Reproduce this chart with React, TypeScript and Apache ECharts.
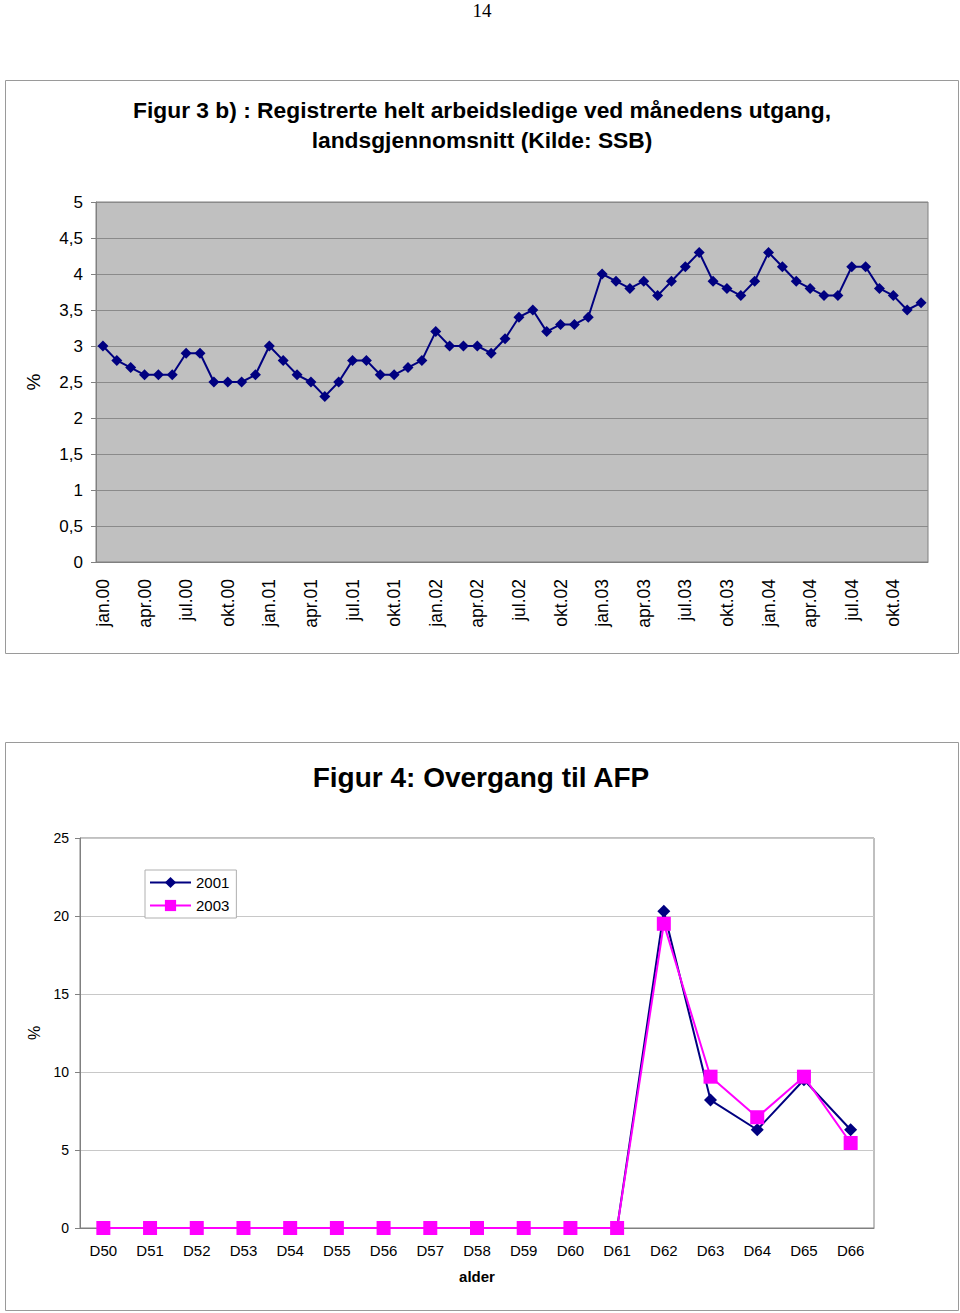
import React, { useEffect, useRef } from "react";
import * as echarts from "echarts";

const months = ["jan", "feb", "mar", "apr", "mai", "jun", "jul", "aug", "sep", "okt", "nov", "des"];
const years = ["00", "01", "02", "03", "04"];
const monthLabels: string[] = [];
years.forEach((y) => months.forEach((m) => monthLabels.push(m + "." + y)));

const unemployment = [
  3.0, 2.8, 2.7, 2.6, 2.6, 2.6, 2.9, 2.9, 2.5, 2.5, 2.5, 2.6,
  3.0, 2.8, 2.6, 2.5, 2.3, 2.5, 2.8, 2.8, 2.6, 2.6, 2.7, 2.8,
  3.2, 3.0, 3.0, 3.0, 2.9, 3.1, 3.4, 3.5, 3.2, 3.3, 3.3, 3.4,
  4.0, 3.9, 3.8, 3.9, 3.7, 3.9, 4.1, 4.3, 3.9, 3.8, 3.7, 3.9,
  4.3, 4.1, 3.9, 3.8, 3.7, 3.7, 4.1, 4.1, 3.8, 3.7, 3.5, 3.6,
];

const ages = ["D50", "D51", "D52", "D53", "D54", "D55", "D56", "D57", "D58", "D59", "D60", "D61", "D62", "D63", "D64", "D65", "D66"];
const afp2001 = [0, 0, 0, 0, 0, 0, 0, 0, 0, 0, 0, 0, 20.3, 8.2, 6.3, 9.5, 6.3];
const afp2003 = [0, 0, 0, 0, 0, 0, 0, 0, 0, 0, 0, 0, 19.5, 9.7, 7.1, 9.7, 5.45];

const FONT = "'Liberation Sans', Arial, sans-serif";

export default function App() {
  const ref = useRef<HTMLDivElement>(null);
  useEffect(() => {
    if (!ref.current) return;
    const chart = echarts.init(ref.current, undefined, { renderer: "svg" });
    chart.setOption({
      animation: false,
      backgroundColor: "#ffffff",
      textStyle: { fontFamily: FONT },
      graphic: [
        { type: "rect", shape: { x: 5.5, y: 80.5, width: 953, height: 573 }, style: { fill: "none", stroke: "#9a9a9a", lineWidth: 1 }, z: -1 },
        { type: "rect", shape: { x: 5.5, y: 742.5, width: 953, height: 568 }, style: { fill: "none", stroke: "#9a9a9a", lineWidth: 1 }, z: -1 },
        { type: "text", x: 482, y: 10, style: { text: "14", fontFamily: "'Liberation Serif', 'Times New Roman', serif", fontSize: 19, fill: "#000", align: "center", verticalAlign: "middle" } },
        {
          type: "text", x: 482, y: 110,
          style: { text: "Figur 3 b) : Registrerte helt arbeidsledige ved månedens utgang,", fontFamily: FONT, fontSize: 22.8, fontWeight: "bold", fill: "#000", align: "center", verticalAlign: "middle" },
        },
        {
          type: "text", x: 482, y: 140,
          style: { text: "landsgjennomsnitt (Kilde: SSB)", fontFamily: FONT, fontSize: 22.8, fontWeight: "bold", fill: "#000", align: "center", verticalAlign: "middle" },
        },
        {
          type: "text", x: 481, y: 777,
          style: { text: "Figur 4: Overgang til AFP", fontFamily: FONT, fontSize: 28, fontWeight: "bold", fill: "#000", align: "center", verticalAlign: "middle" },
        },
      ],
      legend: {
        orient: "vertical", left: 145, top: 870,
        data: ["2001", "2003"],
        backgroundColor: "#fff", borderColor: "#b0b0b0", borderWidth: 1,
        padding: [5, 7, 5, 4], itemGap: 8, itemWidth: 41, itemHeight: 14,
        textStyle: { fontFamily: FONT, fontSize: 15, color: "#000" },
      },
      grid: [
        { left: 96, top: 202, width: 832, height: 360, show: true, backgroundColor: "#c0c0c0", borderColor: "#808080", borderWidth: 1, containLabel: false },
        { left: 80, top: 838, width: 794, height: 390, show: true, backgroundColor: "#fff", borderColor: "#808080", borderWidth: 1, containLabel: false },
      ],
      xAxis: [
        {
          type: "category", gridIndex: 0, data: monthLabels, boundaryGap: true,
          axisLine: { lineStyle: { color: "#808080" } },
          axisTick: { interval: 2, length: 5, lineStyle: { color: "#808080" } },
          axisLabel: { interval: 2, rotate: 90, fontFamily: FONT, fontSize: 17.5, color: "#000", margin: 17 },
        },
        {
          type: "category", gridIndex: 1, data: ages, boundaryGap: true,
          name: "alder", nameLocation: "middle", nameGap: 41,
          nameTextStyle: { fontFamily: FONT, fontSize: 15, fontWeight: "bold", color: "#000" },
          axisLine: { lineStyle: { color: "#808080" } },
          axisTick: { length: 5, lineStyle: { color: "#808080" } },
          axisLabel: { fontFamily: FONT, fontSize: 15, color: "#000", margin: 15 },
        },
      ],
      yAxis: [
        {
          type: "value", gridIndex: 0, min: 0, max: 5, interval: 0.5,
          name: "%", nameLocation: "middle", nameGap: 53, nameRotate: 90,
          nameTextStyle: { fontFamily: FONT, fontSize: 19, color: "#000" },
          axisLine: { show: true, lineStyle: { color: "#808080" } },
          axisTick: { show: true, length: 5, lineStyle: { color: "#808080" } },
          splitLine: { lineStyle: { color: "#8a8a8a", width: 1 } },
          axisLabel: { fontFamily: FONT, fontSize: 17, color: "#000", margin: 13, formatter: (v: number) => String(v).replace(".", ",") },
        },
        {
          type: "value", gridIndex: 1, min: 0, max: 25, interval: 5,
          name: "%", nameLocation: "middle", nameGap: 37, nameRotate: 90,
          nameTextStyle: { fontFamily: FONT, fontSize: 16, color: "#000" },
          axisLine: { show: true, lineStyle: { color: "#808080" } },
          axisTick: { show: true, length: 5, lineStyle: { color: "#808080" } },
          splitLine: { lineStyle: { color: "#c8c8c8", width: 1 } },
          axisLabel: { fontFamily: FONT, fontSize: 14, color: "#000", margin: 11 },
        },
      ],
      series: [
        {
          type: "line", name: "ledighet", xAxisIndex: 0, yAxisIndex: 0, data: unemployment,
          symbol: "diamond", symbolSize: 11, showAllSymbol: true,
          lineStyle: { color: "#000080", width: 2 }, itemStyle: { color: "#000080" },
        },
        {
          type: "line", name: "2001", xAxisIndex: 1, yAxisIndex: 1, data: afp2001,
          symbol: "diamond", symbolSize: 13, showAllSymbol: true,
          lineStyle: { color: "#000080", width: 2 }, itemStyle: { color: "#000080" },
        },
        {
          type: "line", name: "2003", xAxisIndex: 1, yAxisIndex: 1, data: afp2003,
          symbol: "rect", symbolSize: 14, showAllSymbol: true,
          lineStyle: { color: "#ff00ff", width: 2 }, itemStyle: { color: "#ff00ff" },
        },
      ],
    });
    return () => chart.dispose();
  }, []);
  return <div ref={ref} style={{ position: "absolute", left: 0, top: 0, width: 960, height: 1313 }} />;
}
